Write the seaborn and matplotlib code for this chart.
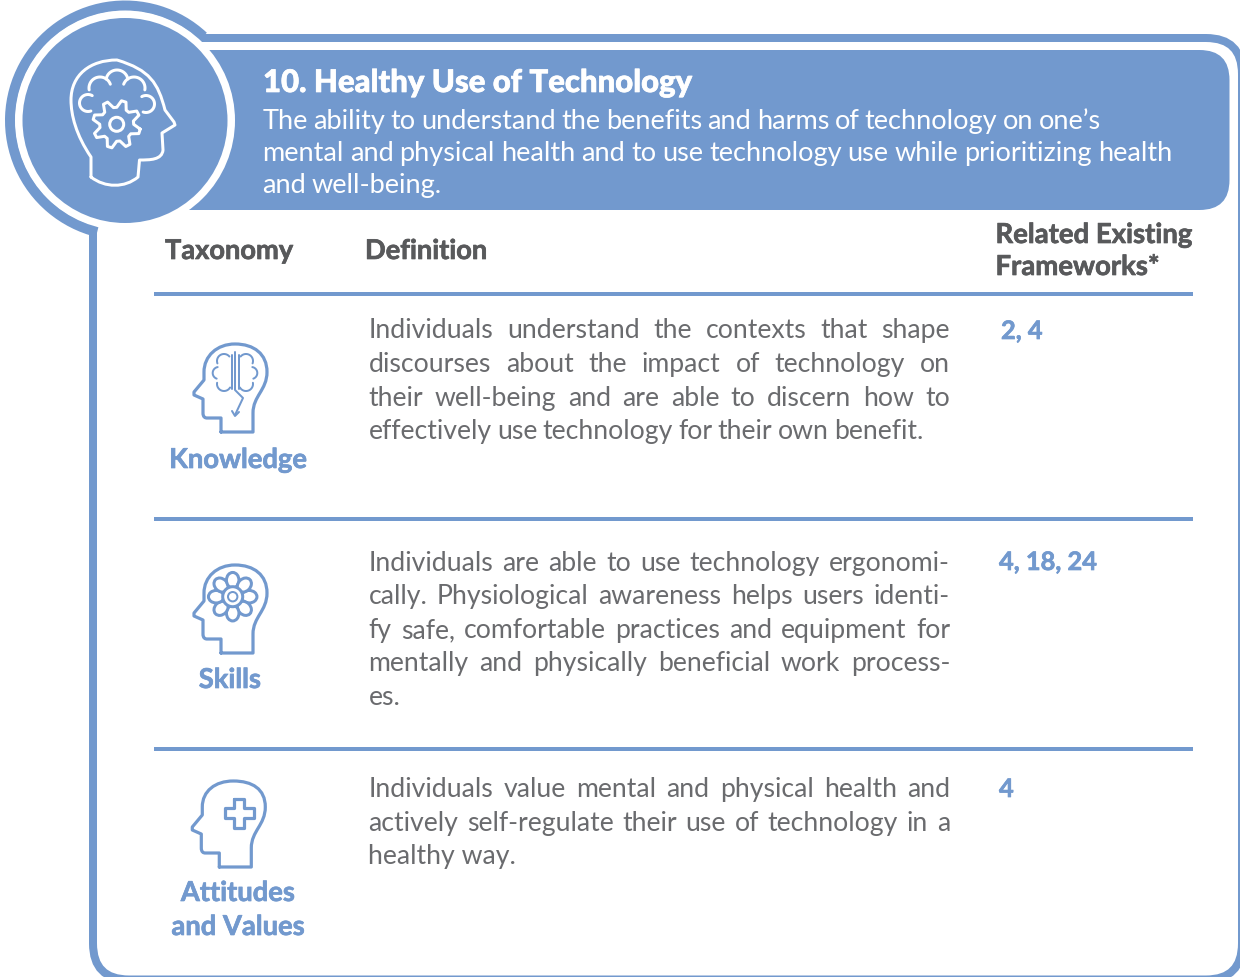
import numpy as np
import matplotlib.pyplot as plt
import matplotlib.patches as patches
import matplotlib.patheffects as pe
from matplotlib.path import Path
import seaborn as sns

BLUE = '#7299CE'
GRAY = '#58595B'
BODY = '#6A6B6E'

title = '10. Healthy Use of Technology'
intro_lines = [
    "The ability to understand the benefits and harms of technology on one\u2019s",
    'mental and physical health and to use technology use while prioritizing health',
    'and well-being.',
]
column_names = ['Taxonomy', 'Definition']
related_header = ['Related Existing', 'Frameworks*']
taxonomy_labels = [['Knowledge'], ['Skills'], ['Attitudes', 'and Values']]
definitions = [
    ['Individuals understand the contexts that shape',
     'discourses about the impact of technology on',
     'their well-being and are able to discern how to',
     'effectively use technology for their own benefit.'],
    ['Individuals are able to use technology ergonomi-',
     'cally. Physiological awareness helps users identi-',
     'fy safe, comfortable practices and equipment for',
     'mentally and physically beneficial work process-',
     'es.'],
    ['Individuals value mental and physical health and',
     'actively self-regulate their use of technology in a',
     'healthy way.'],
]
frameworks = ['2, 4', '4, 18, 24', '4']

sns.set_theme(style='white')
plt.rcParams['font.family'] = ['Lato', 'DejaVu Sans']

fig = plt.figure(figsize=(12.4, 9.77), dpi=100)
ax = fig.add_axes([0, 0, 1, 1])
ax.set_xlim(0, 1240)
ax.set_ylim(977, 0)
ax.axis('off')
renderer = fig.canvas.get_renderer()


def px(n):
    return n * 72 / 100


def heavy(t, color, amount=0.5):
    # the fonts here are lighter than the original, thicken the bold text a little
    t.set_path_effects([pe.withStroke(linewidth=amount, foreground=color)])
    return t


def put_line(line, x, y, size, color, weight='normal', right=None):
    # right = stretch the word gaps so the line ends there
    if right is None:
        t = ax.text(x, y, line, fontsize=size, color=color, weight=weight, va='baseline')
        return heavy(t, color) if weight != 'normal' else t
    words = line.split(' ')
    items = [ax.text(x, y, w, fontsize=size, color=color, weight=weight, va='baseline') for w in words]
    widths = [t.get_window_extent(renderer).width for t in items]
    gap = (right - x - sum(widths)) / max(len(words) - 1, 1)
    pos = x
    for t, w in zip(items, widths):
        t.set_x(pos)
        pos += w + gap


def stroke(verts, codes=None, color=BLUE, lw=3, z=5, fill='none'):
    p = Path(verts, codes) if codes else Path(verts)
    ax.add_patch(patches.PathPatch(p, facecolor=fill, edgecolor=color, lw=px(lw),
                                   joinstyle='round', capstyle='round', zorder=z))


def arc(cx, cy, r, a1, a2, color=BLUE, lw=2, z=6):
    a = np.radians(np.linspace(a1, a2, 40))
    ax.plot(cx + r * np.cos(a), cy + r * np.sin(a), color=color, lw=px(lw),
            solid_capstyle='round', zorder=z)


def small_head(x0, y0, top=-88):
    C4, L = Path.CURVE4, Path.LINETO
    verts = [(0, 0), (32, 0), (32, -19), (32, -36), (46, -42), (46, -60),
             (46, -78), (33, top), (14, top), (-4, top), (-17, -76), (-17, -60),
             (-17, -52), (-27, -40), (-27, -37), (-18, -33), (-18, -19),
             (-18, -15), (-16, -14), (-14, -14), (0, -14), (0, 0)]
    codes = [Path.MOVETO, L, L, C4, C4, C4, C4, C4, C4, C4, C4, C4,
             L, L, L, L, L, C4, C4, C4, L, L]
    stroke([(x0 + a, y0 + b) for a, b in verts], codes, lw=3.2)


# outer frame and header band
frame = patches.FancyBboxPatch((93 + 36, 38 + 36), 1242 - 93 - 72, 979.5 - 38 - 72,
                               boxstyle='round,pad=36,rounding_size=36',
                               facecolor='white', edgecolor=BLUE, lw=px(8), zorder=1)
ax.add_patch(frame)
header = patches.FancyBboxPatch((130, 80), 1229.5 - 130 - 30, 100,
                                boxstyle='round,pad=30,rounding_size=30',
                                facecolor=BLUE, edgecolor='none', zorder=2)
ax.add_patch(header)
ax.add_patch(patches.Wedge((125, 120.5), 120, 104, 313, width=10.5, facecolor=BLUE,
                           edgecolor='none', zorder=3))
ax.add_patch(patches.Circle((125, 120.5), 110, facecolor='white', edgecolor='none', zorder=3))
ax.add_patch(patches.Circle((125, 120.5), 102.5, facecolor=BLUE, edgecolor='none', zorder=4))

# big head
C4, L = Path.CURVE4, Path.LINETO
big = [(91, 177), (105, 188), (125, 188), (138, 177), (139.5, 160), (150, 160), (162, 160),
       (163, 150), (162, 133), (175, 125), (174, 122), (165, 110), (158, 83), (150, 70),
       (117, 60), (90, 60), (71, 75), (71, 100), (71, 115), (76, 135), (91, 157), (91, 177)]
big_codes = [Path.MOVETO, C4, C4, C4, L, C4, C4, C4, L, L, L, L, C4, C4, C4, C4, C4, C4,
             C4, C4, C4, L]
stroke(big, big_codes, color='white', lw=3, z=5)
for cx, cy, r, a1, a2 in [(88, 103, 8.5, 70, 300), (100, 88, 11, 170, 340), (117, 81, 11, 190, 350),
                          (134, 88, 11, 200, 370), (146, 104, 8.5, 240, 470)]:
    arc(cx, cy, r, a1, a2, color='white', lw=3)
teeth = 8
ang = np.linspace(0, 2 * np.pi, teeth * 4, endpoint=False) + np.pi / 8 - np.radians(11)
rad = np.tile([24, 24, 17, 17], teeth)
stroke(np.column_stack([116.7 + rad * np.cos(ang), 124.3 + rad * np.sin(ang)]).tolist()
       + [(116.7 + 24 * np.cos(ang[0]), 124.3 + 24 * np.sin(ang[0]))], color='white', lw=3)
ax.add_patch(patches.Circle((116.7, 124.3), 7, facecolor='none', edgecolor='white', lw=px(3), zorder=6))

# header text
put_line(title, 263, 92, 22.4, 'white', weight=900)
intro_right = [1101, 1172, 442]
for i, line in enumerate(intro_lines):
    put_line(line, 262.5, 129 + 32 * i, 19.5, 'white', right=intro_right[i])

# column headers and rules
put_line(column_names[0], 165, 259, 19.6, GRAY, weight='bold')
put_line(column_names[1], 365, 259, 19.6, GRAY, weight='bold')
for line, y in zip(related_header, [243, 275]):
    put_line(line, 995.5, y, 19.8, GRAY, weight='bold')
for y in [293.5, 518.5, 748.5]:
    ax.plot([154, 1193], [y, y], color=BLUE, lw=px(4), solid_capstyle='butt', zorder=2)

# taxonomy labels
label_rows = [[(238, 468)], [(230, 688)], [(238, 901), (238, 935)]]
for lines, spots in zip(taxonomy_labels, label_rows):
    for line, (x, y) in zip(lines, spots):
        heavy(ax.text(x, y, line, fontsize=19.7, color=BLUE, weight='bold', ha='center', va='baseline'), BLUE)

# definitions
body_rows = [[338, 372, 406, 439], [571, 604, 638, 671, 705], [797, 831, 864]]
body_right = [[950, 950, 950, 923], [950, 950, 950, 950, None], [950, 950, None]]
for lines, ys, rights in zip(definitions, body_rows, body_right):
    for line, y, r in zip(lines, ys, rights):
        put_line(line, 368.5, y, 19.2, BODY, right=r)

# framework numbers
for text, x, y in zip(frameworks, [1001, 999, 999], [339, 570, 797]):
    put_line(text, x, y, 18.3, BLUE, weight='bold')

# knowledge icon
small_head(221, 432)
for sign in [1, -1]:
    mirror = (lambda v: v) if sign == 1 else (lambda v: 470 - v)
    for cx, cy, r, a1, a2 in [(224, 361, 7, 160, 320), (218.7, 373, 6, 110, 260), (224, 384, 7, 30, 190)]:
        arc(mirror(cx), cy, r, a1 if sign == 1 else 180 - a2, a2 if sign == 1 else 180 - a1)
    stroke([(mirror(231.5), 355), (mirror(231.5), 389)], lw=2)
stroke([(235, 352), (235, 390), (243, 398), (235, 415)], lw=2)
stroke([(232, 411), (235, 416), (239, 412)], lw=2)

# skills icon
small_head(221, 653)
for k in range(8):
    a = k * np.pi / 4
    ax.add_patch(patches.Ellipse((232.7 + 16.5 * np.cos(a), 596.7 + 16.5 * np.sin(a)), 15.5, 12.5,
                                 angle=np.degrees(a), facecolor='white', edgecolor=BLUE,
                                 lw=px(3), zorder=6))
ax.add_patch(patches.Circle((232.7, 596.7), 10, facecolor='white', edgecolor=BLUE, lw=px(3), zorder=7))
ax.add_patch(patches.Circle((232.7, 596.7), 4.7, facecolor='white', edgecolor=BLUE, lw=px(2), zorder=8))

# attitudes icon
small_head(219.3, 867, top=-86)
cx, cy = 239.3, 813.3
a, b = 14.5, 5
cross = [(-b, -a), (b, -a), (b, -b), (a, -b), (a, b), (b, b), (b, a), (-b, a), (-b, b), (-a, b),
         (-a, -b), (-b, -b), (-b, -a)]
stroke([(cx + p, cy + q) for p, q in cross], lw=3.2)

sns.despine(ax=ax, left=True, bottom=True)
fig.savefig('out.png', dpi=100, facecolor='white')
plt.close(fig)
